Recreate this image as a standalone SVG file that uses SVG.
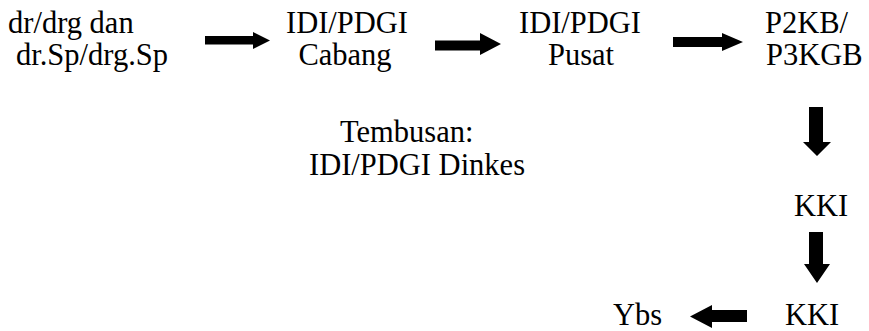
<svg xmlns="http://www.w3.org/2000/svg" width="869" height="331" viewBox="0 0 869 331">
<style>
.t{font-size:30.5px;fill:#000}
.arr{fill:#000;stroke:none}
</style>
<rect width="869" height="331" fill="#fff"/>
<g font-family="'Liberation Serif', 'DejaVu Serif', serif" class="t">
<g id="n-dokter"><text x="8" y="33">dr/drg dan</text><text x="16" y="65">dr.Sp/drg.Sp</text></g>
<g id="n-cabang"><text x="347" y="33" text-anchor="middle">IDI/PDGI</text><text x="345" y="65" text-anchor="middle">Cabang</text></g>
<g id="n-pusat"><text x="580" y="33" text-anchor="middle">IDI/PDGI</text><text x="581" y="65" text-anchor="middle">Pusat</text></g>
<g id="n-p2kb"><text x="765" y="33">P2KB/</text><text x="766" y="65">P3KGB</text></g>
<g id="n-tembusan"><text x="340" y="142">Tembusan:</text><text x="309" y="175">IDI/PDGI Dinkes</text></g>
<g id="n-kki1"><text x="794" y="216">KKI</text></g>
<g id="n-kki2"><text x="785" y="325">KKI</text></g>
<g id="n-ybs"><text x="613" y="325">Ybs</text></g>
</g>
<g id="connectors">
<polygon class="arr" points="205,36 253,36 253,32 270,40.5 253,49 253,44.5 205,44.5"/>
<polygon class="arr" points="435,40.5 480,40.5 480,33 501,44 480,55 480,50.5 435,50.5"/>
<polygon class="arr" points="673,37 722,37 722,33 743,42 722,51 722,47 673,47"/>
<polygon class="arr" points="809,107 823,107 823,142 831,142 817,156 803,142 809,142"/>
<polygon class="arr" points="809,232 823,232 823,264 830,264 817,283 804,264 809,264"/>
<polygon class="arr" points="747,310 712,310 712,305 690,316.5 712,328 712,322 747,322"/>
</g>
</svg>
